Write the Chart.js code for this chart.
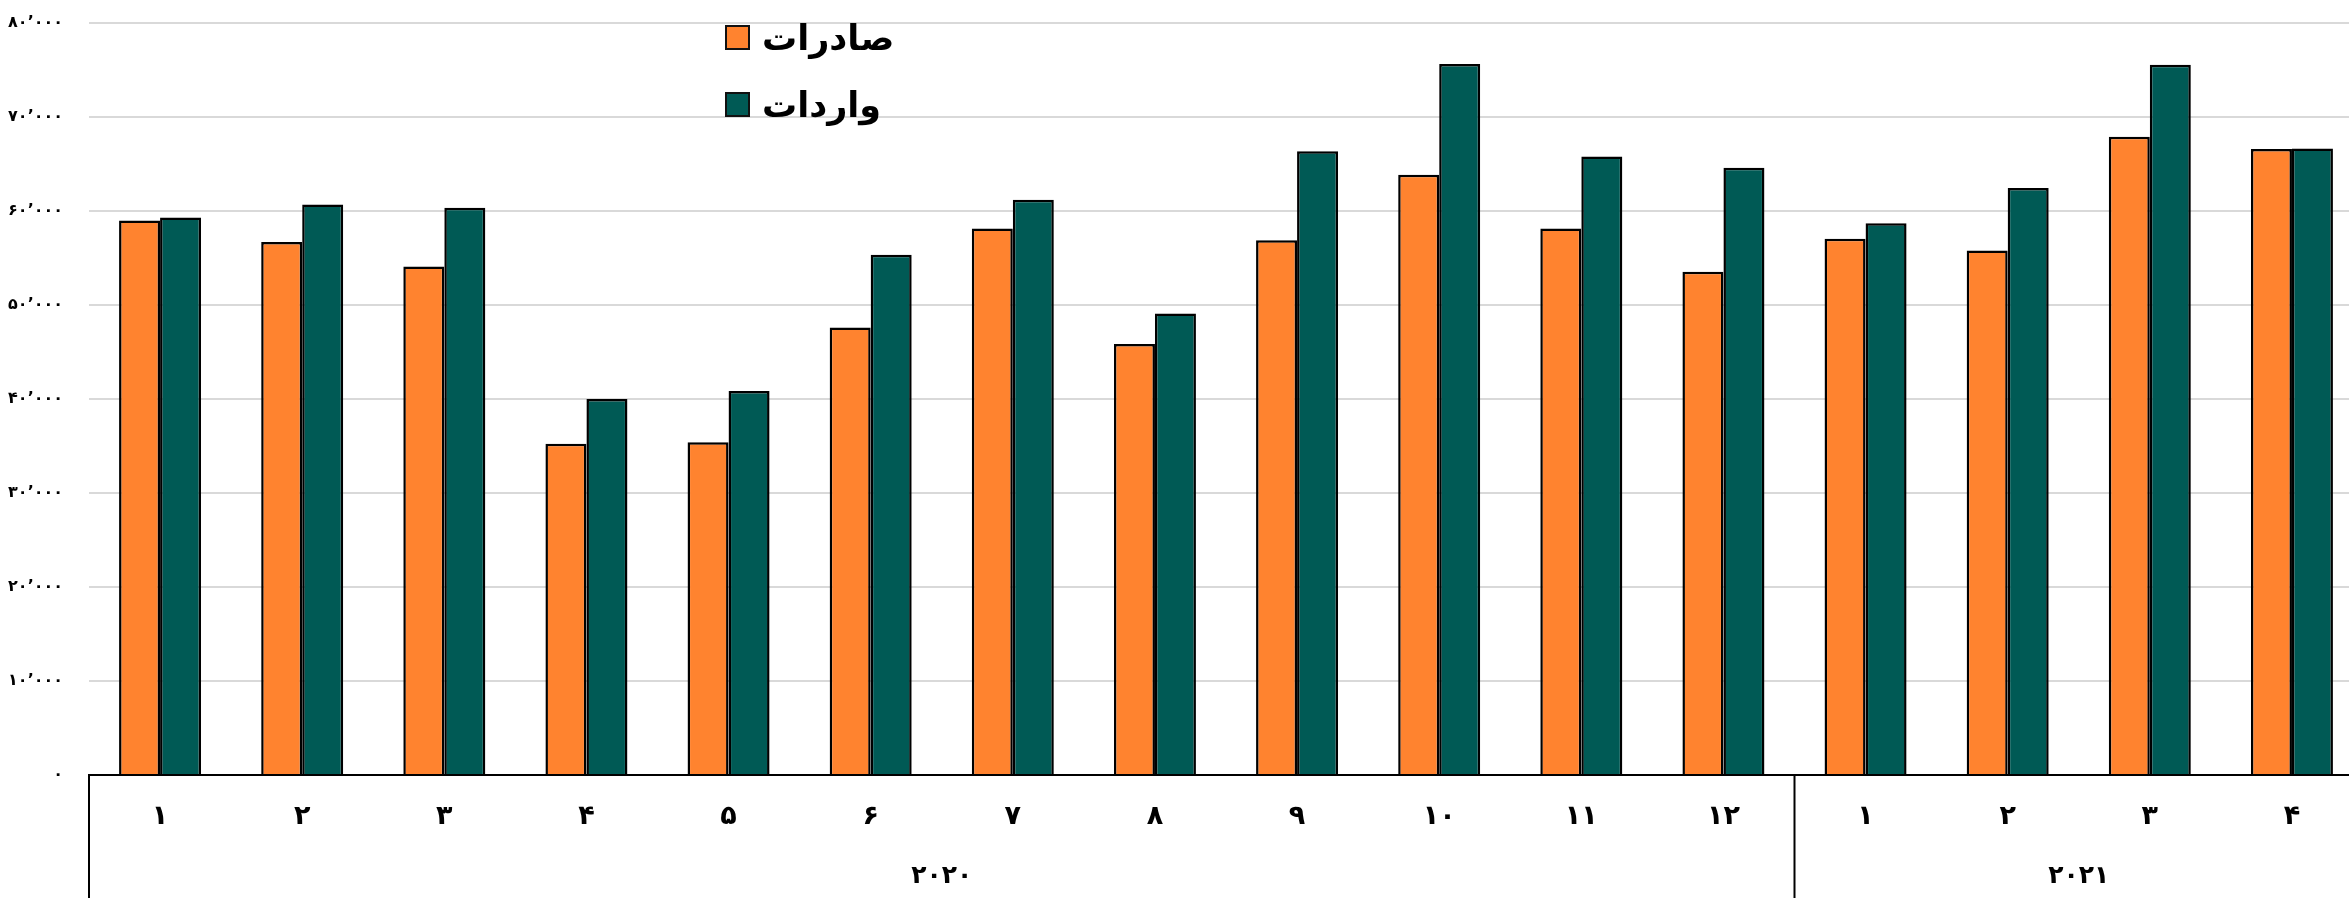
<!DOCTYPE html>
<html lang="fa">
<head>
<meta charset="utf-8">
<title>صادرات و واردات</title>
<script src="https://cdn.jsdelivr.net/npm/chart.js@4.4.1/dist/chart.umd.min.js"></script>
<style>
  html, body { margin: 0; padding: 0; background: #fff; overflow: hidden; }
  .wrap { position: relative; width: 2363px; height: 898px; }
  #legend {
    position: absolute; left: 725px; top: 4px;
    font-family: "DejaVu Sans", sans-serif; font-weight: bold; font-size: 35px; color: #000;
  }
  .item { display: flex; align-items: center; height: 67px; }
  .box { width: 21px; height: 21px; border: 2px solid #111; margin-right: 12px; }
</style>
</head>
<body>
<div class="wrap">
  <canvas id="chart"></canvas>
  <div id="legend"></div>
</div>
<script>
// data
const monthLabels = ["۱", "۲", "۳", "۴", "۵", "۶", "۷", "۸", "۹", "۱۰", "۱۱", "۱۲", "۱", "۲", "۳", "۴"];
const yearLabels = ["۲۰۲۰", "۲۰۲۱"];
const yearCounts = [12, 4];
const yTickLabels = ["۰", "۱۰٬۰۰۰", "۲۰٬۰۰۰", "۳۰٬۰۰۰", "۴۰٬۰۰۰", "۵۰٬۰۰۰", "۶۰٬۰۰۰", "۷۰٬۰۰۰", "۸۰٬۰۰۰"];

const seriesNames = ["صادرات", "واردات"];
const exportsData = [59000, 56700, 54100, 35250, 35400, 47600, 58150, 45850, 56900, 63850, 58150, 53550, 57050, 55800, 67900, 66600];
const importsData = [59300, 60700, 60350, 40000, 40850, 55350, 61200, 49100, 66350, 75650, 65800, 64600, 58700, 62450, 75550, 66650];

const ORANGE = "rgb(255, 131, 47)";
const TEAL = "rgb(0, 90, 85)";
const FONT = '"DejaVu Sans", sans-serif';

// year row under the month labels, with the group separators
const yearRow = {
  id: "yearRow",
  afterDraw(chart) {
    const { ctx, chartArea, scales: { x } } = chart;
    const half = (x.getPixelForValue(1) - x.getPixelForValue(0)) / 2;
    let start = 0;
    ctx.save();
    ctx.strokeStyle = "#000";
    ctx.lineWidth = 2;
    ctx.fillStyle = "#000";
    ctx.font = "bold 25px " + FONT;
    ctx.textAlign = "center";
    ctx.textBaseline = "middle";
    yearLabels.forEach((year, i) => {
      const left = x.getPixelForValue(start) - half;
      const right = x.getPixelForValue(start + yearCounts[i] - 1) + half;
      ctx.beginPath();
      ctx.moveTo(left, chartArea.bottom);
      ctx.lineTo(left, chart.height);
      ctx.stroke();
      ctx.fillText(year, (left + right) / 2, chartArea.bottom + 101);
      start += yearCounts[i];
    });
    ctx.restore();
  }
};

const ctx = document.getElementById("chart").getContext("2d");
const chart = new Chart(ctx, {
  type: "bar",
  data: {
    labels: monthLabels,
    datasets: [
      { label: seriesNames[0], data: exportsData, backgroundColor: ORANGE, borderColor: "#000", borderWidth: 2.5 },
      { label: seriesNames[1], data: importsData, backgroundColor: TEAL, borderColor: "#000", borderWidth: 2.5 }
    ]
  },
  options: {
    responsive: true,
    maintainAspectRatio: false,
    animation: false,
    layout: { padding: { top: 23, right: 0, bottom: 0, left: 0 } },
    datasets: { bar: { categoryPercentage: 0.577, barPercentage: 1 } },
    plugins: {
      legend: { display: false },
      tooltip: { enabled: false }
    },
    scales: {
      x: {
        grid: { display: false, drawTicks: false },
        border: { display: true, color: "#000", width: 2 },
        ticks: {
          color: "#000",
          font: { family: FONT, size: 27, weight: "bold" },
          padding: 26,
          maxRotation: 0,
          autoSkip: false
        },
        afterFit: (scale) => { scale.height = 123; }
      },
      y: {
        min: 0,
        max: 80000,
        grid: {
          drawTicks: false,
          lineWidth: 2,
          color: (c) => (c.tick && c.tick.value === 0 ? "rgba(0,0,0,0)" : "#d9d9d9")
        },
        border: { display: false },
        ticks: {
          stepSize: 10000,
          color: "#000",
          font: { family: FONT, size: 16, weight: "bold" },
          padding: 26,
          callback: (v, i) => yTickLabels[i]
        },
        afterFit: (scale) => {
          scale.width = 89;
          scale.paddingTop = 0;
          scale.paddingBottom = 0;
        }
      }
    }
  },
  plugins: [yearRow]
});

// legend as html, built from the datasets
const legend = document.getElementById("legend");
chart.data.datasets.forEach((ds) => {
  const row = document.createElement("div");
  row.className = "item";
  const box = document.createElement("span");
  box.className = "box";
  box.style.background = ds.backgroundColor;
  const txt = document.createElement("span");
  txt.textContent = ds.label;
  row.appendChild(box);
  row.appendChild(txt);
  legend.appendChild(row);
});
</script>
</body>
</html>
